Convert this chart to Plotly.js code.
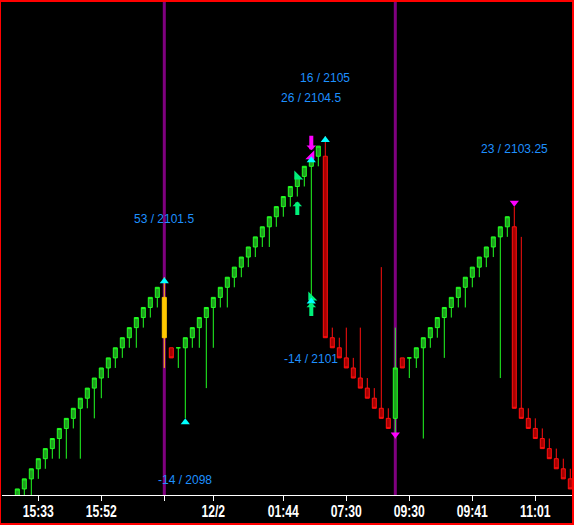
<!DOCTYPE html>
<html><head><meta charset="utf-8">
<script src="https://cdn.plot.ly/plotly-3.0.1.min.js"></script>
<style>
html,body{margin:0;padding:0;background:#000;}
#wrap{position:relative;width:574px;height:525px;overflow:hidden;}
#chart{width:574px;height:525px;}
#frame{position:absolute;left:0;top:0;width:574px;height:525px;box-sizing:border-box;border:solid #FF0000;border-width:2px 2px 2px 1px;pointer-events:none;}
</style></head><body>
<div id="wrap"><div id="chart"></div><div id="frame"></div></div>
<script>
// ---- data ----
const open = [
2096.0,2096.25,2096.5,2096.75,2097.0,2097.25,2097.5,2097.75,2098.0,2098.25,
2098.5,2098.75,2099.0,2099.25,2099.5,2099.75,2100.0,2100.25,2100.5,2100.75,
2101.0,2101.0,2099.75,2099.75,2099.75,2100.0,2100.25,2100.5,2100.75,2101.0,
2101.25,2101.5,2101.75,2102.0,2102.25,2102.5,2102.75,2103.0,2103.25,2103.5,
2103.75,2104.0,2104.25,2104.5,2104.5,2100.0,2099.75,2099.5,2099.25,2099.0,
2098.75,2098.5,2098.25,2098.0,2098.0,2099.5,2099.5,2099.5,2099.75,2100.0,
2100.25,2100.5,2100.75,2101.0,2101.25,2101.5,2101.75,2102.0,2102.25,2102.5,
2102.75,2102.75,2098.25,2098.0,2097.75,2097.5,2097.25,2097.0,2096.75,2096.5];
const high = [
2096.25,2096.5,2096.75,2097.0,2097.25,2097.5,2097.75,2098.0,2098.25,2098.5,
2098.75,2099.0,2099.25,2099.5,2099.75,2100.0,2100.25,2100.5,2100.75,2101.0,
2101.25,2101.5,2099.75,2099.75,2100.0,2100.25,2100.5,2100.75,2101.0,2101.25,
2101.5,2101.75,2102.0,2102.25,2102.5,2102.75,2103.0,2103.25,2103.5,2103.75,
2104.0,2104.25,2104.5,2104.75,2105.0,2100.25,2100.0,2100.25,2099.5,2100.25,
2099.0,2098.75,2101.75,2098.25,2100.25,2099.5,2099.5,2099.75,2100.0,2100.25,
2100.5,2100.75,2101.0,2101.25,2101.5,2101.75,2102.0,2102.25,2102.5,2102.75,
2103.0,2103.25,2102.5,2098.25,2098.0,2097.75,2097.5,2097.25,2097.0,2096.75];
const low = [
2095.75,2095.75,2095.75,2096.5,2096.75,2097.0,2097.0,2097.0,2097.75,2097.0,
2098.25,2098.0,2098.5,2099.0,2099.25,2099.5,2099.75,2099.75,2100.25,2100.5,
2100.75,2099.25,2099.5,2099.25,2098.0,2099.75,2099.75,2098.75,2099.75,2100.75,
2100.75,2101.25,2101.5,2101.75,2102.0,2102.25,2102.25,2102.75,2103.0,2103.25,
2103.5,2103.75,2101.0,2104.25,2100.0,2099.75,2099.5,2099.25,2099.0,2098.75,
2098.5,2098.25,2098.0,2097.75,2097.5,2099.25,2099.0,2099.25,2097.5,2099.75,
2100.0,2099.5,2100.5,2100.75,2100.75,2101.25,2101.5,2101.75,2102.0,2099.0,
2102.5,2098.25,2098.0,2097.75,2097.5,2097.25,2097.0,2096.75,2096.5,2096.25];
const close = [
2096.25,2096.5,2096.75,2097.0,2097.25,2097.5,2097.75,2098.0,2098.25,2098.5,
2098.75,2099.0,2099.25,2099.5,2099.75,2100.0,2100.25,2100.5,2100.75,2101.0,
2101.25,2100.0,2099.5,2099.75,2100.0,2100.25,2100.5,2100.75,2101.0,2101.25,
2101.5,2101.75,2102.0,2102.25,2102.5,2102.75,2103.0,2103.25,2103.5,2103.75,
2104.0,2104.25,2104.5,2104.75,2100.0,2099.75,2099.5,2099.25,2099.0,2098.75,
2098.5,2098.25,2098.0,2097.75,2099.25,2099.25,2099.5,2099.75,2100.0,2100.25,
2100.5,2100.75,2101.0,2101.25,2101.5,2101.75,2102.0,2102.25,2102.5,2102.75,
2103.0,2098.25,2098.0,2097.75,2097.5,2097.25,2097.0,2096.75,2096.5,2096.25];
// g = green bar, r = red bar, y = yellow reversal bar
const kind = [
'g','g','g','g','g','g','g','g','g','g','g','g','g','g','g','g','g','g','g','g','g',
'y','r',
'g','g','g','g','g','g','g','g','g','g','g','g','g','g','g','g','g','g','g','g','g',
'r','r','r','r','r','r','r','r','r','r',
'g','r',
'g','g','g','g','g','g','g','g','g','g','g','g','g','g','g',
'r','r','r','r','r','r','r','r','r'];

const tickIdx  = [3, 12, 21, 28, 38, 47, 56, 65, 74];
const tickText = ['15:33','15:52','','12/2','01:44','07:30','09:30','09:41','11:01'];

const sessionLineIdx = [21, 54];

const upTriIdx   = [21, 24, 42, 44, 42];
const upTriPrice = [2101.5, 2098.0, 2104.5, 2105.0, 2101.0];
const downTriIdx   = [54, 71];
const downTriPrice = [2097.5, 2103.25];
const seTriIdx = [42];
const seTriPrice = [2104.5];
const swTriIdx = [40, 42];
const swTriPrice = [2104.0, 2101.0];
const downArrowIdx = [42];
const downArrowPrice = [2104.5];
const upArrowIdx = [40, 42];
const upArrowPrice = [2103.5, 2101.0];

const labelIdx   = [21, 24, 44, 42, 42, 71];
const labelPrice = [2101.5, 2098.0, 2105.0, 2104.5, 2101.0, 2103.25];
const labelText  = ['53 / 2101.5', '-14 / 2098', '16 / 2105', '26 / 2104.5', '-14 / 2101', '23 / 2103.25'];
const labelAbove = [true, false, true, true, false, true];

// ---- layout geometry ----
const W = 574, H = 525;
const M = {l: 2, r: 2, t: 2, b: 30, pad: 0};
const yRange = [2096.10, 2108.324];
const xRange = [-2.186, 79.243];
const pxPerPrice = (H - M.t - M.b) / (yRange[1] - yRange[0]);

const idx = open.map((_, i) => i);
function pick(arr, k) { return arr.filter((_, i) => kind[i] === k); }

function candle(k, line, fill) {
  const st = {line: {color: line, width: 1}, fillcolor: fill};
  return {
    type: 'candlestick',
    x: pick(idx, k), open: pick(open, k), high: pick(high, k), low: pick(low, k), close: pick(close, k),
    increasing: st, decreasing: st, whiskerwidth: 0, hoverinfo: 'skip', showlegend: false
  };
}

const traces = [
  candle('g', '#22FF22', '#1E9E1E'),
  candle('r', '#FF1010', '#A80000'),
  candle('y', '#FFC800', '#FFC800')
];

function markers(xs, ys, symbol, color, size, apexShift) {
  const off = apexShift * (size / 2) / pxPerPrice;
  return {
    type: 'scatter', mode: 'markers', x: xs, y: ys.map(v => v + off),
    marker: {symbol: symbol, color: color, size: size, line: {width: 0}},
    hoverinfo: 'skip', showlegend: false, cliponaxis: false
  };
}
traces.push(markers(swTriIdx, swTriPrice, 'triangle-sw', '#00F07A', 10, 0));
traces.push(markers(seTriIdx, seTriPrice, 'triangle-se', '#FF00FF', 10, 0));
traces.push(markers(upTriIdx, upTriPrice, 'triangle-up', '#00FFFF', 8, -1));
traces.push(markers(downTriIdx, downTriPrice, 'triangle-down', '#FF00FF', 8, 1));

const annotations = [];
labelIdx.forEach((x, i) => {
  annotations.push({
    x: x, y: labelPrice[i], xref: 'x', yref: 'y', text: labelText[i], showarrow: false,
    yshift: labelAbove[i] ? 58 : -62, xanchor: 'center', yanchor: 'middle',
    font: {family: 'Liberation Sans, Arial, sans-serif', size: 12, color: '#1E90FF'}
  });
});
function arrow(x, y, dy, color, stand) {
  return {x: x, y: y, xref: 'x', yref: 'y', text: '', showarrow: true,
    ax: 0, ay: dy, axref: 'pixel', ayref: 'pixel',
    arrowhead: 1, arrowsize: 0.4, arrowwidth: 4, arrowcolor: color, standoff: stand};
}
downArrowIdx.forEach((x, i) => annotations.push(arrow(x, downArrowPrice[i], -22, '#FF00FF', 6)));
upArrowIdx.forEach((x, i) => annotations.push(arrow(x, upArrowPrice[i], 20, '#00F07A', 5)));

const shapes = sessionLineIdx.map(x => ({
  type: 'line', xref: 'x', yref: 'paper', x0: x, x1: x, y0: 0, y1: 1,
  line: {color: '#800080', width: 3}, layer: 'below'
}));

const layout = {
  width: W, height: H, margin: M,
  paper_bgcolor: '#000000', plot_bgcolor: '#000000',
  showlegend: false, hovermode: false,
  boxgap: 0.43, boxgroupgap: 0,
  xaxis: {
    type: 'linear', range: xRange, fixedrange: true,
    rangeslider: {visible: false},
    showgrid: false, zeroline: false,
    showline: true, linecolor: '#FFFFFF', linewidth: 1,
    ticks: 'outside', ticklen: 5, tickcolor: '#FFFFFF', tickwidth: 1,
    tickmode: 'array', tickvals: tickIdx, ticktext: tickText,
    tickfont: {family: 'Liberation Sans, Arial, sans-serif', size: 16, color: '#FFFFFF', weight: 'bold'}
  },
  yaxis: {
    range: yRange, fixedrange: true, showgrid: false, zeroline: false,
    showline: false, showticklabels: false, ticks: ''
  },
  annotations: annotations,
  shapes: shapes
};

// the reference uses a narrow bold face for the time labels: condense them horizontally
function condenseTicks() {
  document.querySelectorAll('#chart .xtick text').forEach(t => {
    if (t.getAttribute('data-condensed')) return;
    const bb = t.getBBox();
    const cx = bb.x + bb.width / 2;
    const cy = bb.y + bb.height / 2;
    const prev = t.getAttribute('transform') || '';
    t.setAttribute('transform', prev + ' translate(' + cx + ',' + (cy - 3) + ') scale(0.76,1) translate(' + (-cx) + ',' + (-cy) + ')');
    t.setAttribute('data-condensed', '1');
  });
}

Plotly.newPlot('chart', traces, layout, {staticPlot: true, displayModeBar: false}).then(condenseTicks);
</script>
</body></html>
